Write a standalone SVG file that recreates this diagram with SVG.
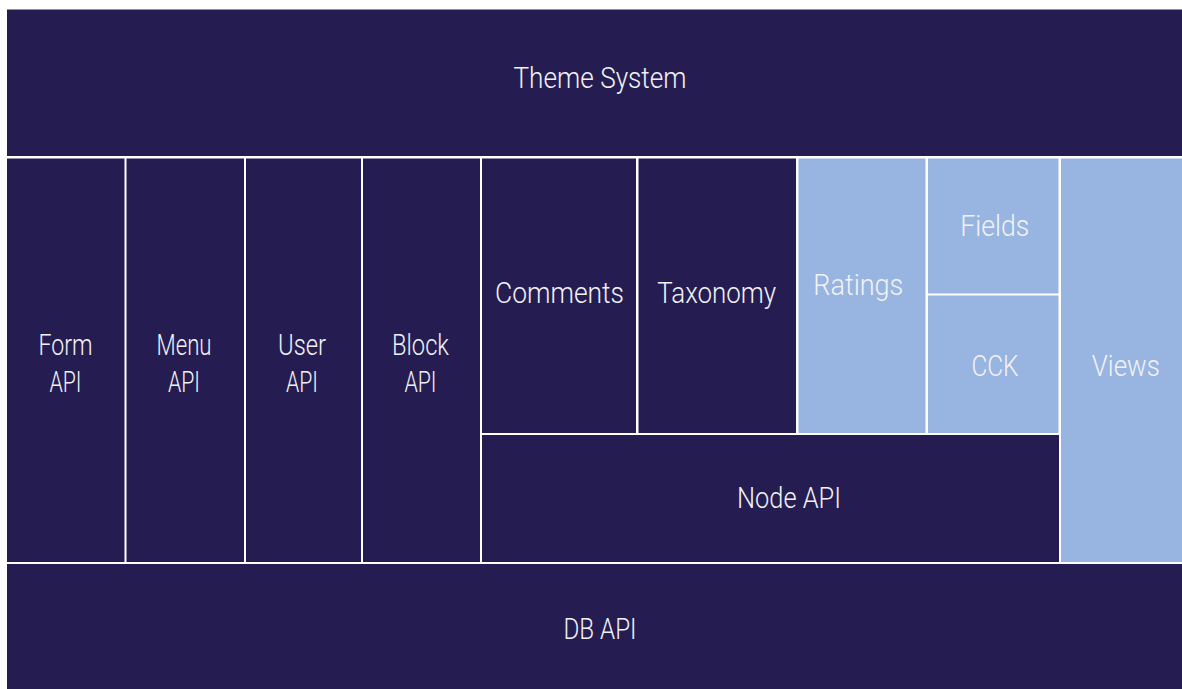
<svg xmlns="http://www.w3.org/2000/svg" width="1182" height="689" viewBox="0 0 1182 689">
  <style>
    .dark { fill: #251d52; }
    .light { fill: #97b5e0; }
    .label { font-family: Roboto, "Liberation Sans", sans-serif; font-weight: 300; font-size: 29px; fill: #f2f2f4; text-anchor: middle; }
  </style>
  <!-- page background shows through as the thin white rules between blocks -->
  <rect x="0" y="0" width="1182" height="689" fill="#ffffff"/>

  <g id="theme-system">
    <rect class="dark" x="7" y="9.5" width="1175" height="146.5"/>
    <text class="label" x="600" y="87.5" textLength="173" lengthAdjust="spacingAndGlyphs">Theme System</text>
  </g>

  <g id="form-api">
    <rect class="dark" x="7" y="158.5" width="117.5" height="403.5"/>
    <text class="label" x="65.5" y="355" textLength="54" lengthAdjust="spacingAndGlyphs">Form</text>
    <text class="label" x="65.5" y="392" textLength="32" lengthAdjust="spacingAndGlyphs">API</text>
  </g>

  <g id="menu-api">
    <rect class="dark" x="126.5" y="158.5" width="117.5" height="403.5"/>
    <text class="label" x="184" y="355" textLength="55" lengthAdjust="spacingAndGlyphs">Menu</text>
    <text class="label" x="184" y="392" textLength="32" lengthAdjust="spacingAndGlyphs">API</text>
  </g>

  <g id="user-api">
    <rect class="dark" x="246" y="158.5" width="115" height="403.5"/>
    <text class="label" x="302" y="355" textLength="48" lengthAdjust="spacingAndGlyphs">User</text>
    <text class="label" x="302" y="392" textLength="32" lengthAdjust="spacingAndGlyphs">API</text>
  </g>

  <g id="block-api">
    <rect class="dark" x="363" y="158.5" width="117" height="403.5"/>
    <text class="label" x="420.5" y="355" textLength="57" lengthAdjust="spacingAndGlyphs">Block</text>
    <text class="label" x="420.5" y="392" textLength="32" lengthAdjust="spacingAndGlyphs">API</text>
  </g>

  <g id="comments">
    <rect class="dark" x="482" y="158.5" width="154" height="274.5"/>
    <text class="label" x="559.5" y="303" textLength="129" lengthAdjust="spacingAndGlyphs">Comments</text>
  </g>

  <g id="taxonomy">
    <rect class="dark" x="638.5" y="158.5" width="157.5" height="274.5"/>
    <text class="label" x="716.7" y="303" textLength="119" lengthAdjust="spacingAndGlyphs">Taxonomy</text>
  </g>

  <g id="ratings">
    <rect class="light" x="798.5" y="158.5" width="127" height="274.5"/>
    <text class="label" x="858.3" y="295" textLength="90" lengthAdjust="spacingAndGlyphs">Ratings</text>
  </g>

  <g id="fields">
    <rect class="light" x="928" y="158.5" width="130.5" height="135"/>
    <text class="label" x="994.7" y="236" textLength="69" lengthAdjust="spacingAndGlyphs">Fields</text>
  </g>

  <g id="cck">
    <rect class="light" x="928" y="295.5" width="130.5" height="137.5"/>
    <text class="label" x="995" y="376" textLength="47" lengthAdjust="spacingAndGlyphs">CCK</text>
  </g>

  <g id="views">
    <rect class="light" x="1061" y="158.5" width="121" height="403.5"/>
    <text class="label" x="1125.8" y="376" textLength="68" lengthAdjust="spacingAndGlyphs">Views</text>
  </g>

  <g id="node-api">
    <rect class="dark" x="482" y="435" width="577" height="127"/>
    <text class="label" x="789" y="508" textLength="104" lengthAdjust="spacingAndGlyphs">Node API</text>
  </g>

  <g id="db-api">
    <rect class="dark" x="7" y="564" width="1175" height="125"/>
    <text class="label" x="600" y="639" textLength="73" lengthAdjust="spacingAndGlyphs">DB API</text>
  </g>

  <g id="connectors"></g>
</svg>
